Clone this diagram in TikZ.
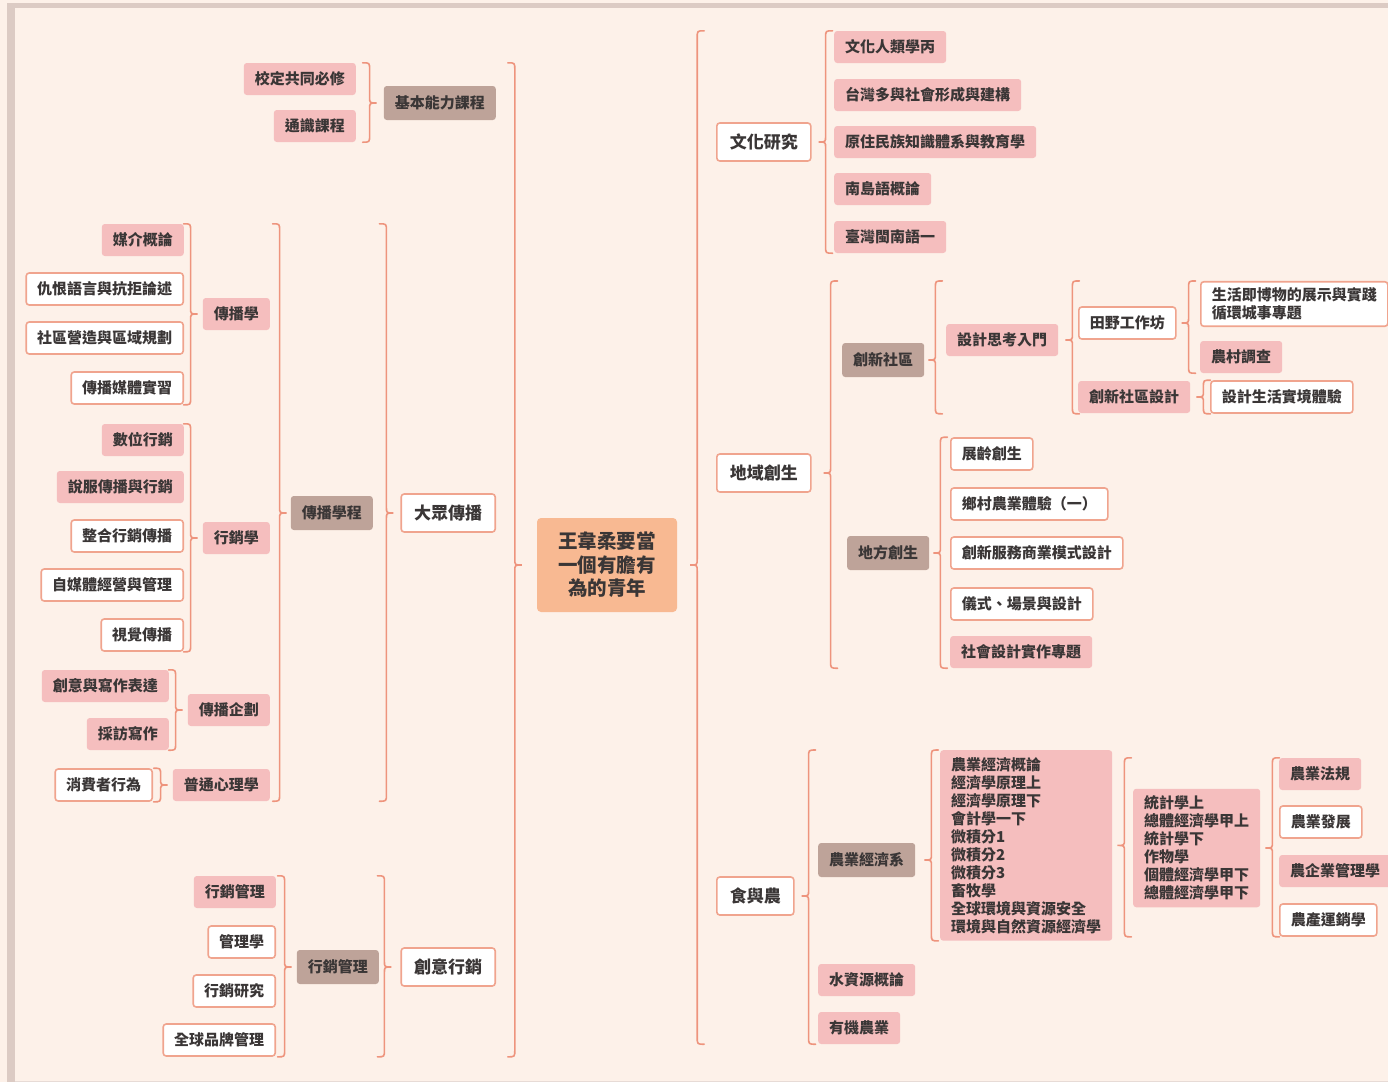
\documentclass[tikz,border=0pt]{standalone}
\usepackage{fontspec}
\setmainfont{Noto Sans CJK TC}
\usetikzlibrary{calc}

\definecolor{bgc}{HTML}{FDF1E9}
\definecolor{framec}{HTML}{DCCBC4}
\definecolor{bracec}{HTML}{EE947D}
\definecolor{pinkc}{HTML}{F5BEBE}
\definecolor{brownc}{HTML}{BEA399}
\definecolor{linec}{HTML}{F0A48E}
\definecolor{rootc}{HTML}{F8B992}
\definecolor{txtc}{HTML}{3A3636}

\tikzset{
  box/.style={rounded corners=3pt, inner xsep=11pt, inner ysep=0pt, minimum height=32pt,
    text=txtc, font=\fontsize{15}{18}\selectfont\bfseries},
  pnk/.style={box, fill=pinkc},
  wht/.style={box, fill=white, draw=linec, line width=1.6pt},
  brn/.style={box, fill=brownc, minimum height=34pt},
  topbox/.style={wht, minimum height=38pt, inner xsep=13pt, font=\fontsize{17}{20}\selectfont\bfseries},
  rootbox/.style={fill=rootc, rounded corners=4pt, align=center, minimum width=140pt,
    minimum height=94pt, text=txtc, font=\fontsize{19.5}{23.5}\selectfont\bfseries},
  brc/.style={draw=bracec, line width=1.6pt, line cap=round}
}

% "}" brace: children left, parent #1 right; #2 top node, #3 bottom node, #4 gap
\newcommand{\braceL}[4]{%
  \draw[brc] let \p1=($(#1.west)+(-#4,0)$), \p2=(#2.north), \p3=(#3.south) in
    (\x1-7pt,\y2) .. controls (\x1,\y2) .. (\x1,\y2-7pt)
    -- (\x1,\y1+6pt) .. controls (\x1,\y1) .. (\x1+7pt,\y1)
    .. controls (\x1,\y1) .. (\x1,\y1-6pt)
    -- (\x1,\y3+7pt) .. controls (\x1,\y3) .. (\x1-7pt,\y3);
}
% "{" brace: parent #1 left, children right
\newcommand{\braceR}[4]{%
  \draw[brc] let \p1=($(#1.east)+(#4,0)$), \p2=(#2.north), \p3=(#3.south) in
    (\x1+7pt,\y2) .. controls (\x1,\y2) .. (\x1,\y2-7pt)
    -- (\x1,\y1+6pt) .. controls (\x1,\y1) .. (\x1-7pt,\y1)
    .. controls (\x1,\y1) .. (\x1,\y1-6pt)
    -- (\x1,\y3+7pt) .. controls (\x1,\y3) .. (\x1+7pt,\y3);
}

\begin{document}
\begin{tikzpicture}[x=1pt,y=-1pt]
  % background and frame
  \fill[bgc] (0,0) rectangle (1388,1082);
  \useasboundingbox (0,0) rectangle (1388,1082);
  \fill[framec] (7,3) rectangle (1388,8);
  \fill[framec] (7,3) rectangle (15,1082);
  \draw[framec!70, line width=1pt] (15,1081) -- (1388,1081);

  % root
  \node[rootbox] (root) at (607,565) {王韋柔要當\\一個有膽有\\為的青年};

  % ---- left side ----
  \node[brn, anchor=east] (jbnl) at (496,103) {基本能力課程};
  \node[topbox, anchor=east] (dzcb) at (496,513) {大眾傳播};
  \node[topbox, anchor=east] (cyxx) at (496,967) {創意行銷};

  \node[pnk, anchor=east] (xdgt) at (356,79) {校定共同必修};
  \node[pnk, anchor=east] (tskc) at (356,126) {通識課程};

  \node[brn, anchor=east] (cbxc) at (373,513) {傳播學程};

  \node[pnk, anchor=east] (cbx) at (270,314) {傳播學};
  \node[pnk, anchor=east] (xxx) at (270,538) {行銷學};
  \node[pnk, anchor=east] (cbqh) at (270,710) {傳播企劃};
  \node[pnk, anchor=east] (ptxl) at (270,785) {普通心理學};

  \node[pnk, anchor=east] (mjgl) at (184,240) {媒介概論};
  \node[wht, anchor=east] (chyy) at (184,289) {仇恨語言與抗拒論述};
  \node[wht, anchor=east] (sqyz) at (184,338) {社區營造與區域規劃};
  \node[wht, anchor=east] (cbmt) at (184,388) {傳播媒體實習};

  \node[pnk, anchor=east] (swxx) at (184,440) {數位行銷};
  \node[pnk, anchor=east] (sfcb) at (184,487) {說服傳播與行銷};
  \node[wht, anchor=east] (zhxx) at (184,536) {整合行銷傳播};
  \node[wht, anchor=east] (zmt) at (184,585) {自媒體經營與管理};
  \node[wht, anchor=east] (sjcb) at (184,635) {視覺傳播};

  \node[pnk, anchor=east] (cyxz) at (169,686) {創意與寫作表達};
  \node[pnk, anchor=east] (cfxz) at (169,734) {採訪寫作};

  \node[wht, anchor=east] (xfz) at (153,785) {消費者行為};

  \node[brn, anchor=east] (xxgl) at (379,967) {行銷管理};
  \node[pnk, anchor=east] (xxgl2) at (276,892) {行銷管理};
  \node[wht, anchor=east] (glx) at (276,942) {管理學};
  \node[wht, anchor=east] (xxyj) at (276,991) {行銷研究};
  \node[wht, anchor=east] (qqpp) at (276,1040) {全球品牌管理};

  % ---- right side ----
  \node[topbox, anchor=west] (whyj) at (716,142) {文化研究};
  \node[topbox, anchor=west] (dycs) at (716,473) {地域創生};
  \node[topbox, anchor=west] (syn) at (716,896) {食與農};

  \node[pnk, anchor=west] (whrl) at (834,47) {文化人類學丙};
  \node[pnk, anchor=west] (twdy) at (834,95) {台灣多與社會形成與建構};
  \node[pnk, anchor=west] (yzmz) at (834,142) {原住民族知識體系與教育學};
  \node[pnk, anchor=west] (ndy) at (834,189) {南島語概論};
  \node[pnk, anchor=west] (twmn) at (834,237) {臺灣閩南語一};

  \node[brn, anchor=west] (cxsq) at (842,360) {創新社區};
  \node[brn, anchor=west] (dfcs) at (847,553) {地方創生};

  \node[pnk, anchor=west] (sjsk) at (946,340) {設計思考入門};
  \node[wht, anchor=west] (tygz) at (1078,323) {田野工作坊};
  \node[pnk, anchor=west] (cxsj) at (1078,397) {創新社區設計};
  \node[wht, anchor=west, align=left, inner ysep=6pt] (shjb) at (1200,304) {生活即博物的展示與實踐\\循環城事專題};
  \node[pnk, anchor=west] (ncdc) at (1200,357) {農村調查};
  \node[wht, anchor=west] (sjsh) at (1210,397) {設計生活實境體驗};

  \node[wht, anchor=west] (zlcs) at (950,454) {展齡創生};
  \node[wht, anchor=west] (xcny) at (950,504) {鄉村農業體驗（一）};
  \node[wht, anchor=west] (cxfw) at (950,553) {創新服務商業模式設計};
  \node[wht, anchor=west] (ysjc) at (950,604) {儀式、場景與設計};
  \node[pnk, anchor=west] (shsj) at (950,652) {社會設計實作專題};

  \node[brn, anchor=west] (nyjj) at (818,860) {農業經濟系};
  \node[pnk, anchor=west] (szy) at (818,980) {水資源概論};
  \node[pnk, anchor=west] (yjny) at (818,1028) {有機農業};

  \node[pnk, anchor=north west, align=left, inner ysep=7pt] (kc1) at (940,750)
    {農業經濟概論\\經濟學原理上\\經濟學原理下\\會計學一下\\微積分1\\微積分2\\微積分3\\畜牧學\\全球環境與資源安全\\環境與自然資源經濟學};
  \node[pnk, anchor=west, align=left, inner ysep=7pt] (kc2) at (1133,848)
    {統計學上\\總體經濟學甲上\\統計學下\\作物學\\個體經濟學甲下\\總體經濟學甲下};

  \node[pnk, anchor=west] (nyfg) at (1279,774) {農業法規};
  \node[wht, anchor=west] (nyfz) at (1279,822) {農業發展};
  \node[pnk, anchor=west] (nqy) at (1279,871) {農企業管理學};
  \node[wht, anchor=west] (ncyx) at (1279,920) {農產運銷學};

  % braces
  \braceL{root}{xdgt}{qqpp}{22}
  \braceL{jbnl}{xdgt}{tskc}{14}
  \braceL{dzcb}{mjgl}{ptxl}{14}
  \braceL{cbxc}{mjgl}{ptxl}{11}
  \braceL{cbx}{mjgl}{cbmt}{12}
  \braceL{xxx}{swxx}{sjcb}{12}
  \braceL{cbqh}{cyxz}{cfxz}{12}
  \braceL{ptxl}{xfz}{xfz}{12}
  \braceL{cyxx}{xxgl2}{qqpp}{16}
  \braceL{xxgl}{xxgl2}{qqpp}{12}

  \braceR{root}{whrl}{yjny}{20}
  \braceR{whyj}{whrl}{twmn}{14}
  \braceR{dycs}{shjb}{shsj}{19}
  \braceR{cxsq}{shjb}{sjsh}{11}
  \braceR{sjsk}{shjb}{sjsh}{14}
  \braceR{tygz}{shjb}{ncdc}{12}
  \braceR{cxsj}{sjsh}{sjsh}{13}
  \braceR{dfcs}{zlcs}{shsj}{11}
  \braceR{syn}{kc1}{yjny}{14}
  \braceR{nyjj}{kc1}{kc1}{16}
  \braceR{kc1}{nyfg}{ncyx}{12}
  \braceR{kc2}{nyfg}{ncyx}{12}
\end{tikzpicture}
\end{document}
